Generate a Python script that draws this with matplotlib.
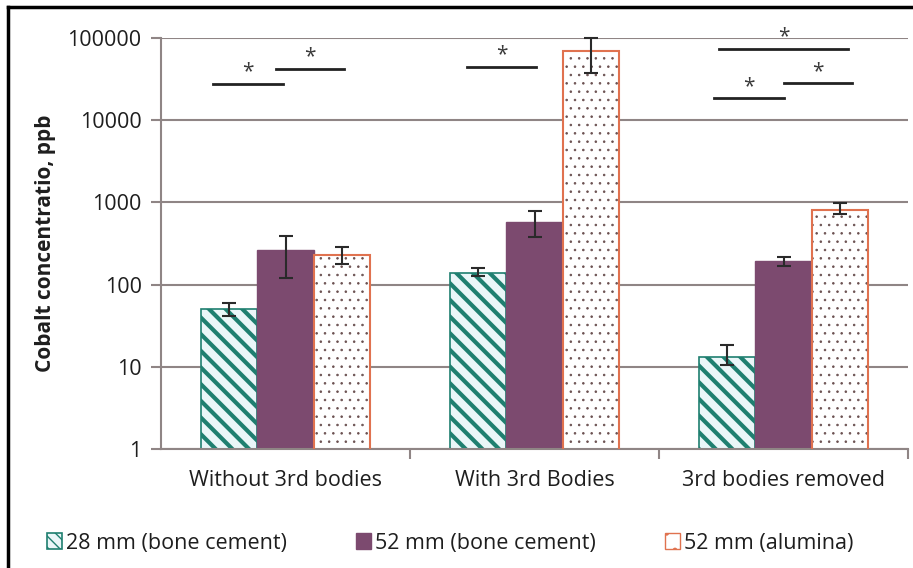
import numpy as np
import matplotlib
matplotlib.use("Agg")
import matplotlib.pyplot as plt
from matplotlib.patches import Patch
from matplotlib.lines import Line2D

plt.rcParams['font.family'] = ['Open Sans', 'DejaVu Sans']

# 数据
categories = ['Without 3rd bodies', 'With 3rd Bodies', '3rd bodies removed']
series_names = ['28 mm (bone cement)', '52 mm (bone cement)', '52 mm (alumina)']
cement28 = [50, 140, 13]
cement52 = [260, 580, 195]
alumina52 = [230, 70000, 810]
cement28_err_lo = [8, 12, 2.5]
cement28_err_hi = [9, 17, 5.5]
cement52_err_lo = [140, 200, 25]
cement52_err_hi = [130, 200, 20]
alumina52_err_lo = [50, 32000, 80]
alumina52_err_hi = [60, 29000, 160]

# 显著性标记: (x起点, x终点, y)
sig_x0 = [-0.29, -0.04, 0.73, 1.74, 2.00, 1.72]
sig_x1 = [-0.01, 0.235, 1.005, 2.26, 2.275, 2.00]
sig_y = [27500, 42000, 44300, 73500, 28200, 18500]

teal = '#1f7f70'
purple = '#7c4a6f'
dot_col = '#6a5050'
orange = '#e0724f'
grid_col = '#8f8585'
txt_col = '#1e1e1e'

fig = plt.figure(figsize=(9.13, 5.68), dpi=100)
ax = fig.add_axes([161/913, 1-449/568, (908-161)/913, (449-38)/568])

x = np.arange(len(categories))
w = 0.225

with plt.rc_context({'hatch.linewidth': 3.0}):
    ax.bar(x - w, cement28, w, color='#eaf6f8', edgecolor=teal, hatch='\\\\', linewidth=1.2, zorder=2)
ax.bar(x, cement52, w, color=purple, edgecolor=purple, linewidth=1, zorder=2)
with plt.rc_context({'hatch.linewidth': 0.6}):
    ax.bar(x + w, alumina52, w, color='white', edgecolor=dot_col, hatch='..', linewidth=0, zorder=2)
ax.bar(x + w, alumina52, w, fill=False, edgecolor=orange, linewidth=1.5, zorder=3)

errkw = dict(fmt='none', ecolor='#2a2a2a', elinewidth=1.5, capsize=5, capthick=1.5, zorder=4, clip_on=False)
ax.errorbar(x - w, cement28, yerr=[cement28_err_lo, cement28_err_hi], **errkw)
ax.errorbar(x, cement52, yerr=[cement52_err_lo, cement52_err_hi], **errkw)
ax.errorbar(x + w, alumina52, yerr=[alumina52_err_lo, alumina52_err_hi], **errkw)

ax.set_yscale('log')
ax.set_ylim(1, 100000)
ax.set_xlim(-0.5, 2.5)
ax.set_yticks([1, 10, 100, 1000, 10000, 100000])
ax.set_yticklabels(['1', '10', '100', '1000', '10000', '100000'])
ax.yaxis.set_minor_locator(matplotlib.ticker.NullLocator())
ax.grid(axis='y', color=grid_col, linewidth=1.5, zorder=0)
ax.set_axisbelow(True)

ax.set_xticks(x)
ax.set_xticklabels(categories)
ax.set_xticks([0.5, 1.5, 2.5], minor=True)
ax.tick_params(axis='x', which='major', length=0, pad=15, labelsize=15.5, labelcolor=txt_col)
ax.tick_params(axis='x', which='minor', length=7, width=1.5, color=grid_col)
ax.tick_params(axis='y', length=7, width=1.5, color=grid_col, pad=7, labelsize=15.5, labelcolor=txt_col)

for s in ['top', 'right']:
    ax.spines[s].set_visible(False)
for s in ['left', 'bottom']:
    ax.spines[s].set_color(grid_col)
    ax.spines[s].set_linewidth(1.5)

ax.set_ylabel('Cobalt concentratio, ppb', fontsize=15, fontweight='bold', labelpad=8, color=txt_col)

# 显著性横线和星号
for x0, x1, yy in zip(sig_x0, sig_x1, sig_y):
    ax.plot([x0, x1], [yy, yy], color='#222222', linewidth=2, clip_on=False, zorder=5)
    ax.annotate('*', ((x0 + x1) / 2, yy), xytext=(0, 1), textcoords='offset points',
                ha='center', va='bottom', fontsize=15,
                color='#3a3a3a', annotation_clip=False)

# 图例
handles = [
    Patch(facecolor='#eaf6f8', edgecolor=teal, hatch='\\\\\\', linewidth=1.2),
    Patch(facecolor=purple, edgecolor=purple),
    Patch(facecolor='white', edgecolor=orange, hatch='.', linewidth=1),
]
fig.legend(handles, series_names, loc='center', bbox_to_anchor=(0.493, 1-543/568),
           ncol=3, frameon=False, fontsize=15.5, handlelength=0.7, handleheight=0.7,
           handletextpad=0.2, columnspacing=3.2, labelcolor=txt_col)

# 外框（上和左）
fig.add_artist(Line2D([8/913, 8/913], [0, 1-7/568], color='black', linewidth=2.5))
fig.add_artist(Line2D([8/913, 1], [1-7/568, 1-7/568], color='black', linewidth=2.5))

fig.savefig('out.png', dpi=100)
